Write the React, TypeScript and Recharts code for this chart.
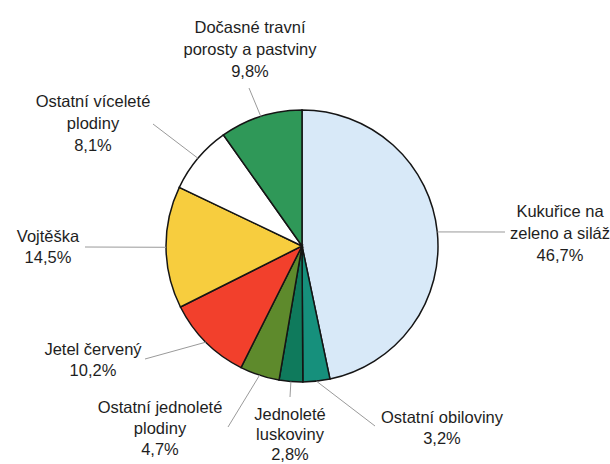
import React from 'react';
import { PieChart, Pie, Cell } from 'recharts';

const CATEGORIES: string[][] = [
  ['Kukuřice na', 'zeleno a siláž'],
  ['Ostatní obiloviny'],
  ['Jednoleté', 'luskoviny'],
  ['Ostatní jednoleté', 'plodiny'],
  ['Jetel červený'],
  ['Vojtěška'],
  ['Ostatní víceleté', 'plodiny'],
  ['Dočasné travní', 'porosty a pastviny'],
];

const SHARES: number[] = [46.7, 3.2, 2.8, 4.7, 10.2, 14.5, 8.1, 9.8];

const COLORS: string[] = [
  '#d8e9f8',
  '#16907c',
  '#0f7a5c',
  '#5e8a2c',
  '#f2402c',
  '#f7cd3e',
  '#ffffff',
  '#2f9858',
];

// label layout relative to pie centre: line end (ex, ey), text centre x (tx), first baseline (ty), line step (lh)
const LABEL_LAYOUT = [
  { ex: 203, ey: -14, tx: 258, ty: -29, lh: 22 },
  { ex: 73, ey: 180, tx: 140, ty: 177, lh: 21 },
  { ex: -12, ey: 151, tx: -12, ty: 174, lh: 20 },
  { ex: -74, ey: 181, tx: -142, ty: 167, lh: 21 },
  { ex: -157, ey: 113, tx: -209, ty: 109, lh: 21 },
  { ex: -217, ey: 1, tx: -254, ty: -4, lh: 21 },
  { ex: -149, ey: -122, tx: -209, ty: -139, lh: 22 },
  { ex: -53, ey: -158, tx: -52, ty: -213, lh: 22 },
];

const data = CATEGORIES.map((lines, i) => ({
  name: lines.join(' '),
  lines,
  value: SHARES[i],
}));

const RAD = Math.PI / 180;

const fmt = (v: number) => v.toFixed(1).replace('.', ',') + '%';

const renderLabel = (props: any) => {
  const { cx, cy, midAngle, outerRadius, index } = props;
  const lay = LABEL_LAYOUT[index];
  const d = data[index];
  const sx = cx + outerRadius * Math.cos(-midAngle * RAD);
  const sy = cy + outerRadius * Math.sin(-midAngle * RAD);
  const ex = cx + lay.ex;
  const ey = cy + lay.ey;
  const tx = cx + lay.tx;
  const ty = cy + lay.ty;
  const allLines = [...d.lines, fmt(d.value)];
  return (
    <g key={`lbl-${index}`}>
      <line x1={sx} y1={sy} x2={ex} y2={ey} stroke="#9a9a9a" strokeWidth={1} />
      <text
        x={tx}
        y={ty}
        textAnchor="middle"
        fill="#1e1e1e"
        fontSize={16.5}
        fontFamily="'Liberation Sans', Arial, sans-serif"
      >
        {allLines.map((l, j) => (
          <tspan key={j} x={tx} y={ty + j * lay.lh}>
            {l}
          </tspan>
        ))}
      </text>
    </g>
  );
};

export default function App() {
  return (
    <div style={{ position: 'absolute', left: 0, top: 0, background: '#fff' }}>
      <PieChart width={610} height={464}>
        <Pie
          data={data}
          dataKey="value"
          nameKey="name"
          cx={297}
          cy={241}
          outerRadius={136}
          startAngle={90}
          endAngle={-270}
          stroke="#151515"
          strokeWidth={1.5}
          label={renderLabel}
          labelLine={false}
          isAnimationActive={false}
        >
          {data.map((d, i) => (
            <Cell key={d.name} fill={COLORS[i]} />
          ))}
        </Pie>
      </PieChart>
    </div>
  );
}
